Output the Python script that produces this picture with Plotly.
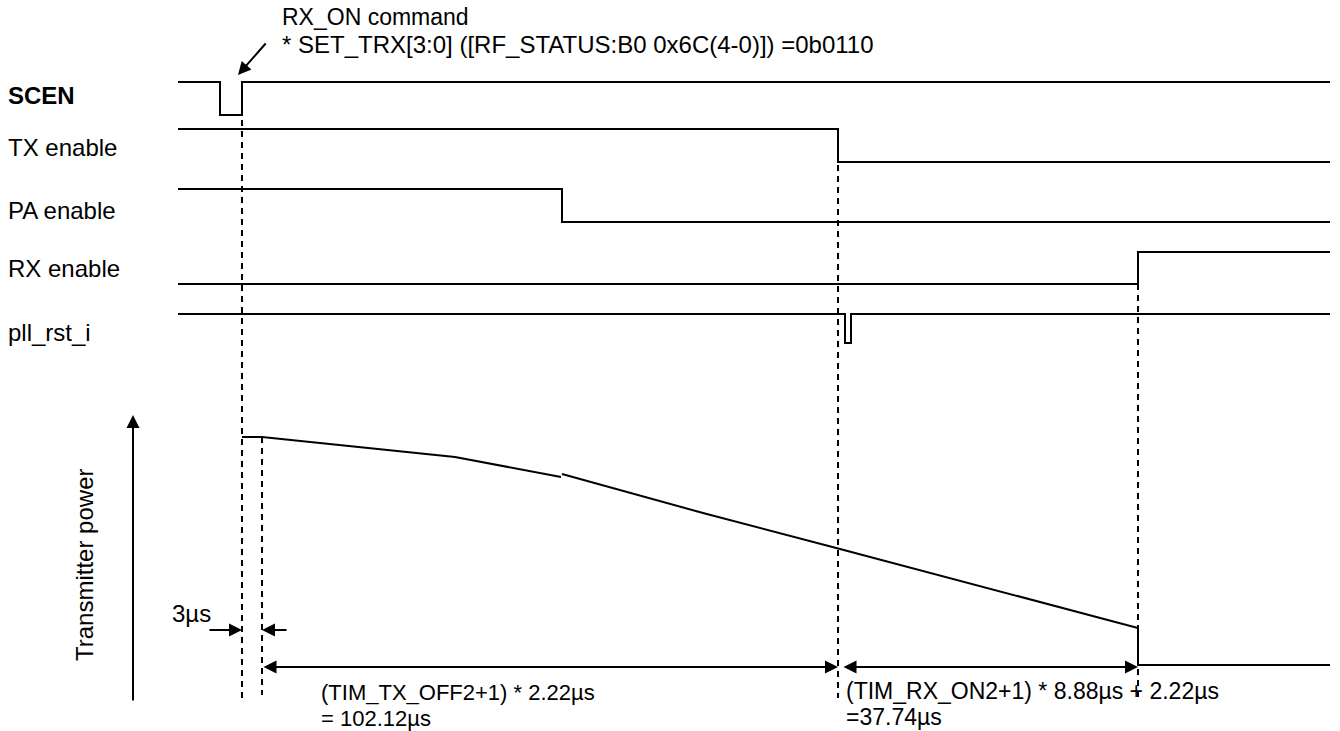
import plotly.graph_objects as go

# page-like coordinates: x to the right, y downwards (same scale as the drawing)
signal_names = ["SCEN", "TX enable", "PA enable", "RX enable", "pll_rst_i"]
label_y = [95, 147, 210, 268, 332]

scen_x = [178, 220, 220, 242, 242, 1330]
scen_y = [82, 82, 115, 115, 82, 82]

tx_x = [178, 838, 838, 1330]
tx_y = [129, 129, 162, 162]

pa_x = [178, 562, 562, 1330]
pa_y = [189, 189, 222, 222]

rx_x = [178, 1138, 1138, 1330]
rx_y = [284, 284, 252, 252]

pll_x = [178, 845, 845, 851, 851, 1330]
pll_y = [314, 314, 343, 343, 314, 314]

# transmitter power ramp down (two pieces, small step at PA off)
power1_x = [242, 262, 455, 561]
power1_y = [437, 437, 457, 477]
power2_x = [562, 703, 840, 1138, 1138, 1330]
power2_y = [474, 513, 549, 628, 665, 665]

# dashed markers
marker_x = [242, 262, 838, 1138]
marker_top = [120, 437, 165, 284]
marker_bottom = [698, 695, 698, 700]

FONT = "Liberation Sans, Arial, sans-serif"

fig = go.Figure()

waves = [(scen_x, scen_y), (tx_x, tx_y), (pa_x, pa_y), (rx_x, rx_y), (pll_x, pll_y)]
for wx, wy in waves:
    fig.add_trace(go.Scatter(x=wx, y=wy, mode="lines",
                             line=dict(color="black", width=2), hoverinfo="skip"))

fig.add_trace(go.Scatter(x=power1_x, y=power1_y, mode="lines",
                         line=dict(color="black", width=2), hoverinfo="skip"))
fig.add_trace(go.Scatter(x=power2_x, y=power2_y, mode="lines",
                         line=dict(color="black", width=2), hoverinfo="skip"))

for mx, t, b in zip(marker_x, marker_top, marker_bottom):
    fig.add_trace(go.Scatter(x=[mx, mx], y=[t, b], mode="lines",
                             line=dict(color="black", width=2, dash="6px,5px"),
                             hoverinfo="skip"))


def text(x, y, s, size, **kw):
    fig.add_annotation(x=x, y=y, text=s, showarrow=False,
                       xanchor=kw.pop("xanchor", "left"), yanchor="middle",
                       font=dict(family=FONT, size=size, color="black"), **kw)


# signal labels
for i, name in enumerate(signal_names):
    text(6, label_y[i], "<b>%s</b>" % name if i == 0 else name, 24)

# top note
text(280, 17, "RX_ON command", 23)
text(280, 44, "* SET_TRX[3:0] ([RF_STATUS:B0 0x6C(4-0)]) =0b0110", 24)

# arrows
arrows = [
    (238, 75, 267, 42, "end"),
    (242, 630, 208, 630, "end"),
    (262, 630, 288, 630, "end"),
    (838, 667, 262, 667, "end+start"),
    (1138, 667, 842, 667, "end+start"),
    (133, 415, 133, 702, "end"),
]
for x, y, ax, ay, side in arrows:
    fig.add_annotation(x=x, y=y, ax=ax, ay=ay, xref="x", yref="y",
                       axref="x", ayref="y", text="", showarrow=True,
                       arrowhead=2, arrowsize=1.3, arrowwidth=2,
                       arrowcolor="black", arrowside=side,
                       standoff=0, startstandoff=0)

text(170, 613, "3µs", 24)
text(84, 565, "Transmitter power", 24, textangle=-90, xanchor="center")

text(319, 692, "(TIM_TX_OFF2+1) * 2.22µs", 22)
text(319, 718, "= 102.12µs", 22)
text(844, 691, "(TIM_RX_ON2+1) * 8.88µs + 2.22µs", 23)
text(844, 717, "=37.74µs", 23)

fig.update_layout(
    width=1340, height=731,
    margin=dict(l=0, r=0, t=0, b=0),
    paper_bgcolor="white", plot_bgcolor="white",
    showlegend=False,
    xaxis=dict(range=[0, 1340], visible=False, fixedrange=True),
    yaxis=dict(range=[731, 0], visible=False, fixedrange=True),
)

fig.write_html("out.html", config={"displayModeBar": False},
               post_script="document.body.style.margin='0';")
